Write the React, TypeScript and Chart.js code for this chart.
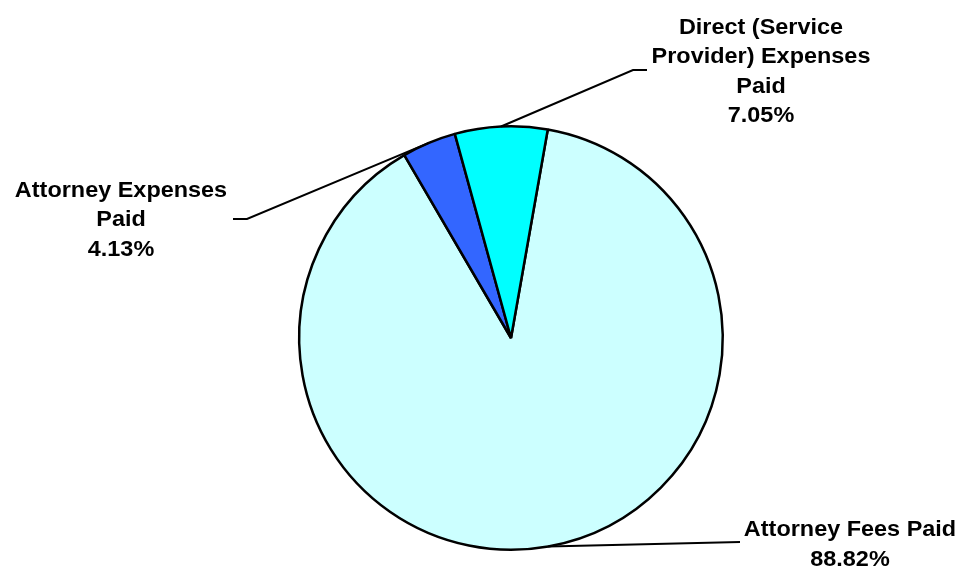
import React, { useEffect, useRef } from "react";
import { Chart, registerables } from "chart.js";

Chart.register(...registerables);

const categories = ["Attorney Fees Paid", "Attorney Expenses Paid", "Direct (Service Provider) Expenses Paid"];
const values = [88.82, 4.13, 7.05];
const percentLabels = ["88.82%", "4.13%", "7.05%"];
const labelLines = [
  ["Attorney Fees Paid"],
  ["Attorney Expenses", "Paid"],
  ["Direct (Service", "Provider) Expenses", "Paid"],
];
const colors = ["#CCFFFF", "#3366FF", "#00FFFF"];

// label layout: text center x, first baseline y, leader elbow, leader end
const labelPos = [
  { x: 850, y: 536, elbow: [740, 542], end: [740, 542] },
  { x: 121, y: 196.5, elbow: [247, 219], end: [233, 219] },
  { x: 761, y: 33.5, elbow: [633, 70], end: [647, 70] },
];

const labelPlugin = {
  id: "pieLabels",
  afterDatasetsDraw(chart: any) {
    const ctx = chart.ctx;
    const meta = chart.getDatasetMeta(0);
    ctx.save();
    meta.data.forEach((arc: any, i: number) => {
      const p = arc.getProps(["x", "y", "startAngle", "endAngle", "outerRadius"], true);
      const mid = (p.startAngle + p.endAngle) / 2;
      const sx = p.x + Math.cos(mid) * p.outerRadius;
      const sy = p.y + Math.sin(mid) * p.outerRadius;
      const lp = labelPos[i];
      ctx.strokeStyle = "#000";
      ctx.lineWidth = 2;
      ctx.beginPath();
      ctx.moveTo(sx, sy);
      ctx.lineTo(lp.elbow[0], lp.elbow[1]);
      ctx.lineTo(lp.end[0], lp.end[1]);
      ctx.stroke();

      const lines = [...labelLines[i], percentLabels[i]];
      ctx.fillStyle = "#000";
      ctx.font = "bold 21.5px 'Liberation Sans', Arial, sans-serif";
      ctx.textAlign = "center";
      ctx.textBaseline = "alphabetic";
      lines.forEach((t, j) => {
        ctx.save();
        ctx.translate(lp.x, lp.y + j * 29.5);
        ctx.scale(1.09, 1);
        ctx.fillText(t, 0, 0);
        ctx.restore();
      });
    });
    ctx.restore();
  },
};

export default function App() {
  const ref = useRef<HTMLCanvasElement>(null);
  useEffect(() => {
    document.body.style.margin = "0";
    const chart = new Chart(ref.current!, {
      type: "pie",
      data: {
        labels: categories,
        datasets: [
          {
            data: values,
            backgroundColor: colors,
            borderColor: "#000000",
            borderWidth: 2.5,
          },
        ],
      },
      options: {
        animation: false,
        responsive: true,
        maintainAspectRatio: false,
        rotation: 10,
        layout: { padding: { top: 125, bottom: 17, left: 298, right: 238 } },
        plugins: {
          legend: { display: false },
          tooltip: { enabled: false },
          title: { display: false },
        },
      },
      plugins: [labelPlugin],
    });
    return () => chart.destroy();
  }, []);
  return (
    <div style={{ position: "fixed", left: 0, top: 0, width: 962, height: 568, background: "#fff" }}>
      <canvas ref={ref} />
    </div>
  );
}
